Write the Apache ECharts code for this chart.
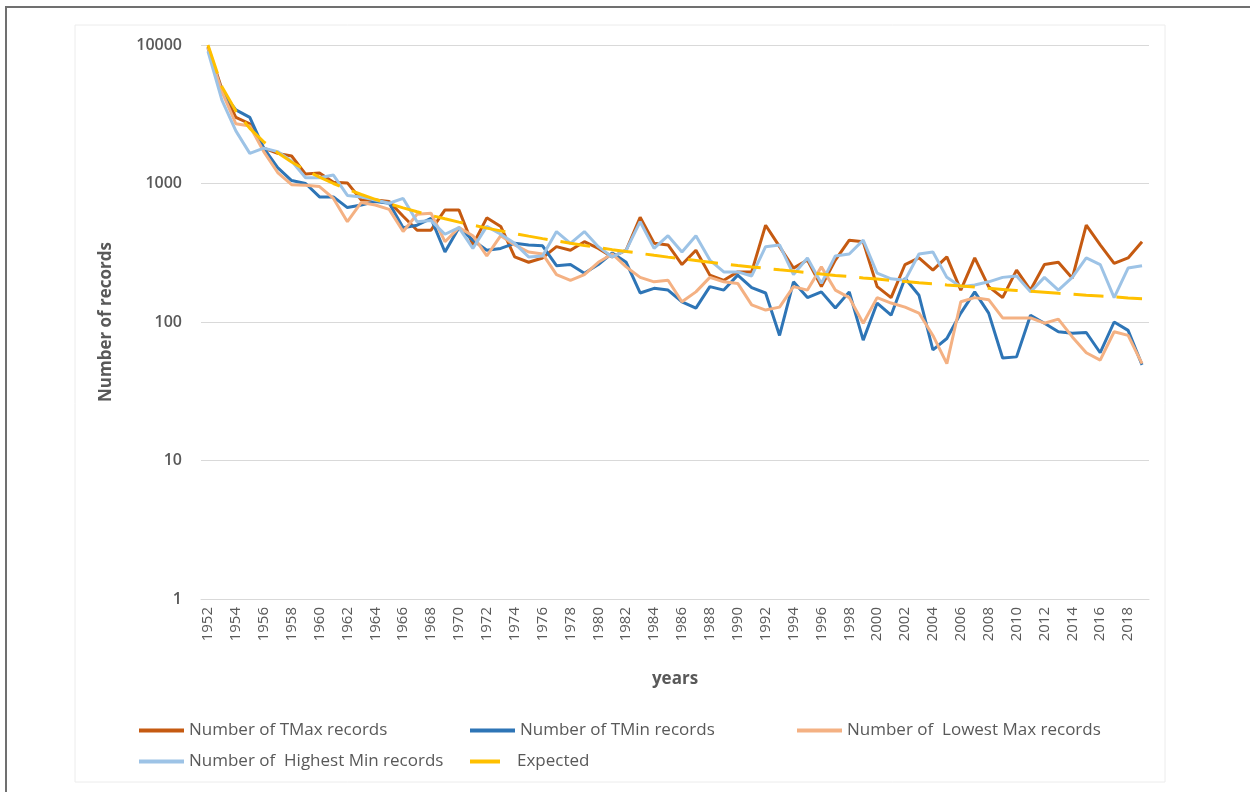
<!DOCTYPE html>
<html>
<head>
<meta charset="utf-8">
<script src="https://cdn.jsdelivr.net/npm/echarts@6/dist/echarts.min.js"></script>
<style>
html,body{margin:0;padding:0;background:#fff;}
#c{width:1250px;height:792px;}
</style>
</head>
<body>
<div id="c"></div>
<script>
const years = [];
for (let y = 1952; y <= 2019; y++) years.push(String(y));

const tmaxRecords = [9700,4800,3000,2700,1800,1650,1580,1170,1190,1020,
  1010,760,760,740,580,460,460,645,645,360,
  565,490,295,270,290,350,330,380,340,295,
  330,570,370,360,260,330,218,200,230,230,
  500,350,245,280,180,280,390,380,180,150,
  260,290,237,295,170,290,180,150,237,170,
  260,270,207,500,360,265,290,380];

const tminRecords = [9500,4600,3400,3000,1800,1300,1050,1000,800,800,
  670,700,740,720,480,500,560,320,480,390,
  330,340,370,360,355,255,260,225,260,315,
  270,162,175,170,140,126,180,170,218,177,
  162,80,195,150,165,126,165,74,137,112,
  207,156,63,76,116,165,116,55,56,112,
  98,85,83,84,60,100,87,49];

const lowestMaxRecords = [9500,4600,2700,2600,1700,1200,980,970,950,780,
  530,730,700,650,450,600,610,380,480,420,
  300,420,360,320,310,220,200,220,270,310,
  250,210,195,200,140,165,210,195,190,133,
  122,128,180,170,250,170,150,98,150,137,
  128,116,80,50,140,150,145,107,107,107,
  98,105,78,60,53,85,80,50];

const highestMinRecords = [9000,4000,2400,1650,1800,1700,1450,1100,1100,1150,
  820,800,760,720,780,530,540,430,480,340,
  490,430,370,295,300,450,370,450,350,295,
  330,530,340,420,320,420,280,230,230,215,
  350,360,220,290,190,300,310,390,225,205,
  200,310,320,210,180,185,195,210,215,165,
  210,170,210,290,260,150,245,255];

const expectedRecords = [10000,5000,3333,2500,2000,1667,1429,1250,1111,1000,
  909,833,769,714,667,625,588,556,526,500,
  476,455,435,417,400,385,370,357,345,333,
  323,313,303,294,286,278,270,263,256,250,
  244,238,233,227,222,217,213,208,204,200,
  196,192,189,185,182,179,175,172,169,167,
  164,161,159,156,154,152,149,147];

const yTicks = [1, 10, 100, 1000, 10000];

const names = ['Number of TMax records','Number of TMin records','Number of  Lowest Max records','Number of  Highest Min records','Expected'];
const colors = ['#C55A11','#2E75B6','#F4B183','#9DC3E6','#FFC000'];
const font = "'Open Sans', sans-serif";

function legendItem(i, left, top, w) {
  return {
    left: left, top: top, padding: 0, itemGap: 0,
    itemWidth: w, itemHeight: 4, icon: 'rect',
    data: [{name: names[i], itemStyle: {color: colors[i]}}],
    textStyle: {color: '#595959', fontSize: 17, fontFamily: font, padding: i === 4 ? [0,0,0,12] : [0,0,0,0]},
    selectedMode: false
  };
}

const chart = echarts.init(document.getElementById('c'), null, {renderer: 'canvas'});
chart.setOption({
  animation: false,
  backgroundColor: '#fff',
  graphic: [
    {type: 'rect', shape: {x: 75, y: 25, width: 1090, height: 757}, style: {fill: 'none', stroke: '#ececec', lineWidth: 1}, silent: true, z: -10},
    {type: 'polyline', shape: {points: [[6, 792], [6, 7], [1250, 7]]}, style: {fill: 'none', stroke: '#707070', lineWidth: 2}, silent: true, z: -10}
  ],
  grid: {left: 201, right: 101, top: 45, bottom: 193, containLabel: false},
  legend: [
    legendItem(0, 139, 722, 45),
    legendItem(1, 470, 722, 45),
    legendItem(2, 797, 722, 45),
    legendItem(3, 139, 753, 45),
    legendItem(4, 470, 753, 30)
  ],
  xAxis: {
    type: 'category', data: years, boundaryGap: true,
    name: 'years', nameLocation: 'middle', nameGap: 72,
    nameTextStyle: {color: '#595959', fontSize: 17, fontWeight: 'bold', fontFamily: font},
    axisLine: {show: true, lineStyle: {color: '#d9d9d9', width: 1}},
    axisTick: {show: false},
    axisLabel: {interval: 1, rotate: 90, color: '#595959', fontSize: 15, fontFamily: font, margin: 8},
    splitLine: {show: false}
  },
  yAxis: {
    type: 'log', logBase: 10, min: yTicks[0], max: yTicks[yTicks.length - 1],
    name: 'Number of records', nameLocation: 'middle', nameGap: 86, nameRotate: 90,
    nameTextStyle: {color: '#595959', fontSize: 17, fontWeight: 'bold', fontFamily: font},
    axisLine: {show: false}, axisTick: {show: false},
    axisLabel: {color: '#595959', fontSize: 16, fontWeight: 600, fontFamily: font, margin: 19,
      formatter: function (v) { return String(Math.round(v)); }},
    splitLine: {show: true, lineStyle: {color: '#d9d9d9', width: 1}}
  },
  series: [
    {name: names[0], type: 'line', data: tmaxRecords, showSymbol: false, lineStyle: {color: colors[0], width: 3}, itemStyle: {color: colors[0]}},
    {name: names[1], type: 'line', data: tminRecords, showSymbol: false, lineStyle: {color: colors[1], width: 3}, itemStyle: {color: colors[1]}},
    {name: names[2], type: 'line', data: lowestMaxRecords, showSymbol: false, lineStyle: {color: colors[2], width: 3}, itemStyle: {color: colors[2]}},
    {name: names[3], type: 'line', data: highestMinRecords, showSymbol: false, lineStyle: {color: colors[3], width: 3}, itemStyle: {color: colors[3]}},
    {name: names[4], type: 'line', data: expectedRecords, showSymbol: false, lineStyle: {color: colors[4], width: 3, type: [30, 13]}, itemStyle: {color: colors[4]}}
  ]
});
</script>
</body>
</html>
